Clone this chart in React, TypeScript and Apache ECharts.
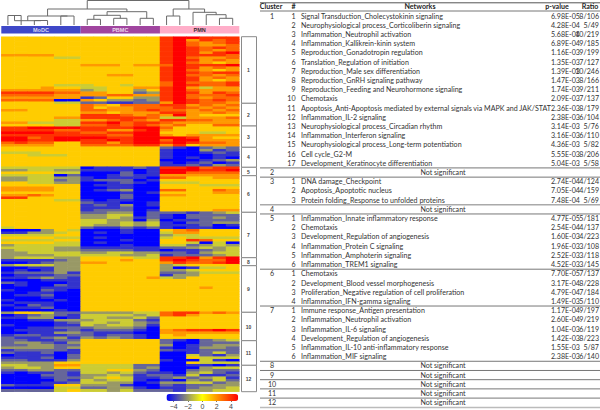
import React, { useEffect, useRef } from "react";
import * as echarts from "echarts";

// value of each digit used in the heat-map rows below
const levels = [-5, -4, -3, -2, -1, 1, 2, 3, 4, 5];
const columns = ["M1","M2","M3","M4","M5","M6","B1","B2","B3","B4","B5","B6","N1","N2","N3","N4","N5","N6"];
const cluster1 = ["555555555555899888","555555555555896878","555555555555897678","555555555555897667","555555555555898787","555555555555898767","555555555555898689","666655555555898887","555544555555897667","555555555555898676","555555555555897656","555555666566798889","555555555555898676","555555555555897656","555555555555898788","555555556655897767","555555555555898676","555555555555898656","555555555555797778","555544455455798778","555655445566896466","666666345535897666","888877665523898687","777766667766897778","666666125533897677","777700653323898787","555544221122698776"];
const cluster2 = ["555555765777886767","555555756677787676","665555776678776767","555555665666886676","555555888767696555","555566888887446667","555544667876887766","664444889788766666","555544778787675577"];
const cluster3 = ["889999888899755555","888877886689655555","999988778899555445","888888887799656666","997899998899998655","998899889899799666","787755886899898776","666655777788685666"];
const cluster4 = ["555555555555210232","555555555555100312","444555555555100121","554445555555100011","555555555555101010","555555555555000123","555555555555101201","555555555555112132"];
const cluster5 = ["444444011121889788","334433111101999889","555544000201997777"];
const cluster6 = ["444402001211666666","334433101110775566","334423122201555555","554433001210444555","555555011100555444","666655001100555555","666655012300775576","555555000101555566","667655000200665555","885555000200555555","555544101100555555","555555211001555555","555555121301555555","555555111200555555","555555122201555566"];
const cluster7 = ["555555223302221234","555555334402102222","555555334312102232","555555443303011222","555555443434102233","555555433434111201","455555211212101100","000354000100567555","113345010100466555","444455000000344555","555544010000454444","444455000100558755","555544010000554040","344444000100442343","444433111111223434","344433222211011234","334444334433221344","333344444334122234"];
const cluster8 = ["344433555544889689","111123555655898779","001233665555687789"];
const cluster9 = ["344433555555345555","001133555555301445","010133555555334555","122231555555223444","011122555555133555","112321555556435555","000111555555555555","210001555555555555","010021555555555555","000111555555555655","100210555555555555","001100555555555555","011200555555555555","000100555555555555","100010555555555555","011100555555555555","102100555555555555","011200555555555555","000010555555555555"];
const cluster10 = ["355422333344788676","012321444434786555","113301443342555555","001133344421555555","000012443432555555","100011434431555555","001122233320555555","011112122210678898","001133211100666666","122112212210565555","211231323210555555"];
const cluster11 = ["221122555555210234","233213555555200222","223322555555301233","333323555555101332","122221555555211222","211201555555001242","011102555555004213","111202555555005444","221113555555100410","333355555555005444"];
const cluster12 = ["443366444422001101","344355444423000344","223322445532002322","101121443421103421","000221334312214112","000122345411232341","000021434410103242","000112443301334423","211155333100212233","000044223310112334","222245443422213344"];
const heatRows = [...cluster1, ...cluster2, ...cluster3, ...cluster4, ...cluster5, ...cluster6, ...cluster7, ...cluster8, ...cluster9, ...cluster10, ...cluster11, ...cluster12];

const groupNames = ["MoDC", "PBMC", "PMN"];
const clusterNames = ["1","2","3","4","5","6","7","8","9","10","11","12"];
const clusterEdges = [36.7,103.3,126,147.3,167.3,175.7,212.3,257.7,265.7,312.3,340.7,365.3,391.7];
const legendTicks = [-4, -2, 0, 2, 4];

const tableCluster = ["1","","","","","","","","","","","","","","","","","2","3","","","4","5","","","","","","6","","","","7","","","","","","8","9","10","11","12"];
const tableNumber = ["1","2","3","4","5","6","7","8","9","10","11","12","13","14","15","16","17","","1","2","3","","1","2","3","4","5","6","1","2","3","4","1","2","3","4","5","6","","","","",""];
const networks = [
  "Signal Transduction_Cholecystokinin signaling","Neurophysiological process_Corticoliberin signaling","Inflammation_Neutrophil activation","Inflammation_Kallikrein-kinin system","Reproduction_Gonadotropin regulation","Translation_Regulation of initiation","Reproduction_Male sex differentiation","Reproduction_GnRH signaling pathway","Reproduction_Feeding and Neurohormone signaling","Chemotaxis","Apoptosis_Anti-Apoptosis mediated by external signals via MAPK and JAK/STAT","Inflammation_IL-2 signaling","Neurophysiological process_Circadian rhythm","Inflammation_Interferon signaling","Neurophysiological process_Long-term potentiation","Cell cycle_G2-M","Development_Keratinocyte differentiation",
  "Not significant",
  "DNA damage_Checkpoint","Apoptosis_Apoptotic nucleus","Protein folding_Response to unfolded proteins",
  "Not significant",
  "Inflammation_Innate inflammatory response","Chemotaxis","Development_Regulation of angiogenesis","Inflammation_Protein C signaling","Inflammation_Amphoterin signaling","Inflammation_TREM1 signaling",
  "Chemotaxis","Development_Blood vessel morphogenesis","Proliferation_Negative regulation of cell proliferation","Inflammation_IFN-gamma signaling",
  "Immune response_Antigen presentation","Inflammation_Neutrophil activation","Inflammation_IL-6 signaling","Development_Regulation of angiogenesis","Inflammation_IL-10 anti-inflammatory response","Inflammation_MIF signaling",
  "Not significant","Not significant","Not significant","Not significant","Not significant",
];
const pValues = ["6.98E-05","4.28E-04","5.68E-04","6.89E-04","1.16E-03","1.35E-03","1.39E-03","1.47E-03","1.74E-03","2.09E-03","2.36E-03","2.38E-03","3.14E-03","3.16E-03","4.36E-03","5.55E-03","5.04E-03","","2.74E-04","7.05E-04","7.48E-04","","4.77E-05","2.54E-04","1.60E-03","1.96E-03","2.52E-03","4.52E-03","7.70E-05","3.17E-04","4.79E-04","1.49E-03","1.17E-04","2.60E-04","1.04E-03","1.42E-03","1.55E-03","2.38E-03","","","","",""];
const ratios = ["8/106","5/49","10/219","9/185","9/199","7/127","10/246","8/166","9/211","7/137","8/179","6/104","5/76","6/110","5/82","8/206","5/58","","4/124","4/159","5/69","","5/181","4/137","4/223","3/108","3/118","3/145","7/137","8/228","7/184","5/110","9/197","9/219","6/119","8/223","5/87","6/140","","","","",""];
const tableHeaders = ["Cluster", "#", "Networks", "p-value", "Ratio"];

// sample clustering: [merge height, left child, right child]; a number is a leaf column
const dendrogram: any = [0.5, [9, [16, [20.7, [15.5, 0, 1], [20.5, 2, 3]], [16, 4, 5]], [11.7, [15.3, [19.3, 6, 7], [18.3, 8, 9]], [18.3, 10, 11]]], [9, [16, 12, 13], [12.3, 14, [14.7, 15, [18.3, 16, 17]]]]];

const FONT = "Lato, 'Open Sans', sans-serif";

function buildGraphic() {
  const out: any[] = [];
  const gLeft = 1.3, gW = 238, colW = gW / 18;
  // dendrogram
  const walk = (n: any): [number, number] => {
    if (typeof n === "number") return [gLeft + colW * (n + 0.5), 25];
    const a = walk(n[1]);
    const b = walk(n[2]);
    out.push({ type: "polyline", shape: { points: [[a[0], a[1]], [a[0], n[0]], [b[0], n[0]], [b[0], b[1]]] }, style: { stroke: "#6a6a6a", lineWidth: 1, fill: "none" } });
    return [(a[0] + b[0]) / 2, n[0]];
  };
  walk(dendrogram);
  // group bar
  const barColors = ["#3f48c8", "#a0459f", "#ffaec9"];
  const barText = ["#d8d8f0", "#ecd8ec", "#3a2a30"];
  groupNames.forEach((g, i) => {
    out.push({ type: "rect", shape: { x: gLeft + i * 6 * colW, y: 26, width: 6 * colW, height: 7.5 }, style: { fill: barColors[i] } });
    out.push({ type: "text", x: gLeft + (i * 6 + 3) * colW, y: 30, style: { text: g, fill: barText[i], font: `bold 5.5px 'Liberation Sans', Arial, sans-serif`, textAlign: "center", textVerticalAlign: "middle" } });
  });
  // cluster boxes
  clusterNames.forEach((c, i) => {
    const y0 = clusterEdges[i], y1 = clusterEdges[i + 1];
    out.push({ type: "rect", shape: { x: 241.5, y: y0, width: 15, height: y1 - y0 }, style: { fill: "#fff", stroke: "#8a8a8a", lineWidth: 1 } });
    out.push({ type: "text", x: 248.5, y: (y0 + y1) / 2, style: { text: c, fill: "#444", font: `bold 5px 'Liberation Sans', Arial, sans-serif`, textAlign: "center", textVerticalAlign: "middle" } });
  });
  // table
  const font = `7.1px ${FONT}`;
  const boldFont = `bold 7.1px ${FONT}`;
  const rowY = (i: number) => 16 + i * 9.207;
  const hx = [271, 293.5, 420, 557, 590];
  tableHeaders.forEach((h, i) => {
    out.push({ type: "text", x: hx[i], y: 6.8, style: { text: h, fill: "#222", font: boldFont, textAlign: "center", textVerticalAlign: "middle" } });
  });
  const hline = (y: number, color: string, w: number) => out.push({ type: "line", shape: { x1: 260, y1: y, x2: 600, y2: y }, style: { stroke: color, lineWidth: w } });
  hline(2.8, "#555", 1);
  hline(11, "#777", 1);
  networks.forEach((n, i) => {
    const y = rowY(i);
    if (tableCluster[i]) {
      out.push({ type: "text", x: 272, y, style: { text: tableCluster[i], fill: "#333", font, textAlign: "center", textVerticalAlign: "middle" } });
      if (i > 0) hline(y - 4.6, i === 21 ? "#aaa" : "#777", i === 21 ? 1.5 : 1);
    }
    if (tableNumber[i]) out.push({ type: "text", x: 295.5, y, style: { text: tableNumber[i], fill: "#333", font, textAlign: "right", textVerticalAlign: "middle" } });
    const ns = !pValues[i];
    out.push({ type: "text", x: ns ? 443 : 301, y, style: { text: n, fill: "#333", font, textAlign: ns ? "center" : "left", textVerticalAlign: "middle" } });
    if (!ns) {
      out.push({ type: "text", x: 551, y, style: { text: pValues[i], fill: "#333", font, textAlign: "left", textVerticalAlign: "middle" } });
      out.push({ type: "text", x: 599, y, style: { text: ratios[i], fill: "#333", font, textAlign: "right", textVerticalAlign: "middle" } });
    }
  });
  hline(407.6, "#bbb", 1.5);
  return out;
}

export default function App() {
  const ref = useRef<HTMLDivElement>(null);
  useEffect(() => {
    document.body.style.margin = "0";
    const chart = echarts.init(ref.current!, null, { renderer: "svg" });
    const cells: number[][] = [];
    heatRows.forEach((row, r) => {
      row.split("").forEach((ch, c) => cells.push([c, r, levels[Number(ch)]]));
    });
    chart.setOption({
      animation: false,
      backgroundColor: "#fff",
      grid: [
        { left: 1.3, top: 36.7, width: 238, height: 355 },
        { left: 166.5, top: 394, width: 71.7, height: 7 },
      ],
      xAxis: [
        { type: "category", gridIndex: 0, data: columns, show: false },
        {
          type: "value", gridIndex: 1, min: -5, max: 5,
          axisLine: { show: false }, splitLine: { show: false },
          axisTick: { show: true, length: 2, customValues: legendTicks, lineStyle: { color: "#777" } },
          axisLabel: { show: true, customValues: legendTicks, margin: 3, fontSize: 7, color: "#444", fontFamily: "'Liberation Sans', Arial, sans-serif", formatter: (v: number) => String(v).replace("-", "\u2212") },
        },
      ],
      yAxis: [
        { type: "category", gridIndex: 0, data: heatRows.map((_, i) => String(i)), inverse: true, show: false },
        { type: "value", gridIndex: 1, show: false },
      ],
      visualMap: {
        type: "continuous", min: -5, max: 5, dimension: 2, seriesIndex: 0,
        calculable: false, orient: "horizontal", left: 166.5, top: 394, padding: 0,
        itemWidth: 7, itemHeight: 71.7, text: ["", ""], showLabel: false,
        inRange: { color: ["#0000ff", "#ffff00", "#ff0000"] },
      },
      series: [
        {
          type: "heatmap", xAxisIndex: 0, yAxisIndex: 0, data: cells, silent: true,
          itemStyle: { borderWidth: 0 }, progressive: 0,
        },
      ],
      graphic: { elements: buildGraphic() },
    });
    return () => chart.dispose();
  }, []);
  return <div ref={ref} style={{ width: 600, height: 410 }} />;
}
